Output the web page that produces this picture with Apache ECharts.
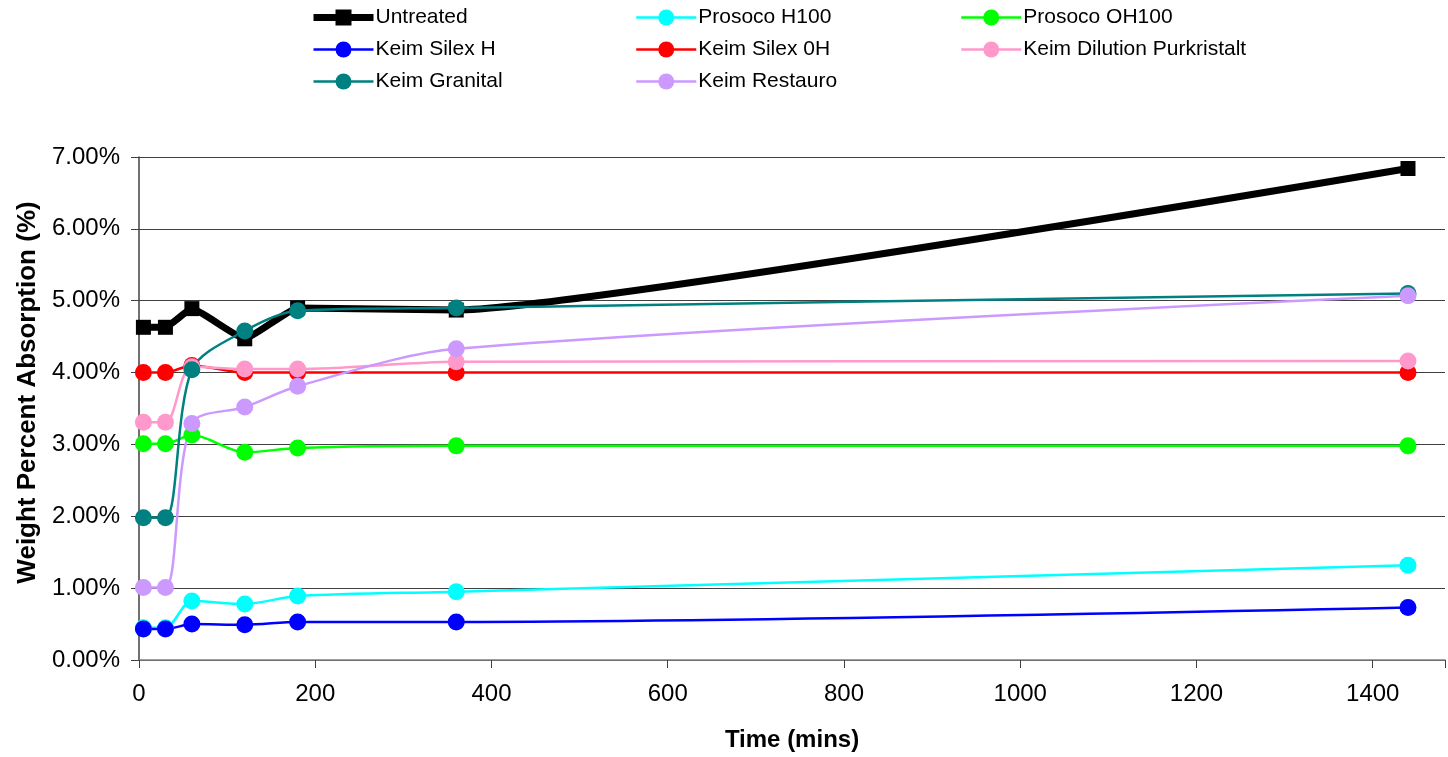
<!DOCTYPE html>
<html>
<head>
<meta charset="utf-8">
<script src="https://cdn.jsdelivr.net/npm/echarts@6/dist/echarts.min.js"></script>
<style>
html,body{margin:0;padding:0;background:#fff;}
#chart{width:1448px;height:757px;}
</style>
</head>
<body>
<div id="chart"></div>
<script>
// Data
var times = [5, 30, 60, 120, 180, 360, 1440];
var seriesNames = ['Untreated', 'Prosoco H100', 'Prosoco OH100', 'Keim Silex H', 'Keim Silex 0H', 'Keim Dilution Purkristalt', 'Keim Granital', 'Keim Restauro'];
var untreated   = [4.63, 4.63, 4.89, 4.47, 4.90, 4.87, 6.84];
var prosocoH100 = [0.45, 0.45, 0.82, 0.78, 0.89, 0.95, 1.32];
var prosocoOH100= [3.01, 3.01, 3.13, 2.89, 2.95, 2.98, 2.98];
var keimSilexH  = [0.43, 0.43, 0.50, 0.49, 0.53, 0.53, 0.73];
var keimSilex0H = [4.00, 4.00, 4.10, 4.00, 4.00, 4.00, 4.00];
var keimPurkristalt = [3.31, 3.31, 4.08, 4.05, 4.05, 4.15, 4.16];
var keimGranital = [1.98, 1.98, 4.04, 4.58, 4.86, 4.90, 5.10];
var keimRestauro = [1.01, 1.01, 3.29, 3.52, 3.81, 4.33, 5.07];
var xTicks = [0, 200, 400, 600, 800, 1000, 1200, 1400];
var yTicks = [0, 1, 2, 3, 4, 5, 6, 7];

var valuesList = [untreated, prosocoH100, prosocoOH100, keimSilexH, keimSilex0H, keimPurkristalt, keimGranital, keimRestauro];
var colors = ['#000000', '#00FFFF', '#00FF00', '#0000FF', '#FF0000', '#FF99CC', '#008080', '#CC99FF'];

function pairs(vals) {
  return times.map(function (t, i) { return [t, vals[i]]; });
}

var FONT = '"Liberation Sans", Arial, sans-serif';

var series = seriesNames.map(function (name, i) {
  var isU = i === 0;
  return {
    name: name,
    type: 'line',
    data: pairs(valuesList[i]),
    smooth: isU ? 0.12 : 0.3,
    symbol: isU ? 'rect' : 'circle',
    symbolSize: isU ? 15 : 17,
    showSymbol: true,
    itemStyle: { color: colors[i], borderWidth: 0 },
    lineStyle: { color: colors[i], width: isU ? 7 : 2.5 },
    emphasis: { disabled: true },
    animation: false
  };
});

function legendItem(name) {
  var i = seriesNames.indexOf(name);
  var isU = i === 0;
  return {
    name: name,
    itemStyle: { color: colors[i] },
    lineStyle: { color: colors[i], width: isU ? 7 : 2.5 }
  };
}

var legendBase = {
  orient: 'vertical',
  top: 2,
  itemWidth: 60,
  itemHeight: 20,
  itemGap: 11,
  textStyle: { fontFamily: FONT, fontSize: 21, color: '#000', lineHeight: 21, padding: [0, 0, 0, -3] },
  selectedMode: false
};

var option = {
  backgroundColor: '#fff',
  animation: false,
  color: colors,
  legend: [
    Object.assign({}, legendBase, { left: 305, data: ['Untreated', 'Keim Silex H', 'Keim Granital'].map(legendItem) }),
    Object.assign({}, legendBase, { left: 630, data: ['Prosoco H100', 'Keim Silex 0H', 'Keim Restauro'].map(legendItem) }),
    Object.assign({}, legendBase, { left: 955, data: ['Prosoco OH100', 'Keim Dilution Purkristalt'].map(legendItem) })
  ],
  grid: { left: 139, top: 157, bottom: 97, right: 0, containLabel: false },
  xAxis: {
    type: 'value',
    min: 0,
    max: 1482,
    interval: 200,
    name: 'Time (mins)',
    nameLocation: 'middle',
    nameGap: 68,
    nameTextStyle: { fontFamily: FONT, fontSize: 24, fontWeight: 'bold', color: '#000' },
    axisLine: { show: true, lineStyle: { color: '#808080', width: 1.5 } },
    axisTick: { show: true, inside: false, length: 8, lineStyle: { color: '#404040' } },
    axisLabel: {
      fontFamily: FONT, fontSize: 24, color: '#000', margin: 22,
      formatter: function (v) { return xTicks.indexOf(v) >= 0 ? String(v) : ''; }
    },
    splitLine: { show: false }
  },
  yAxis: {
    type: 'value',
    min: 0,
    max: 7,
    interval: 1,
    name: 'Weight Percent Absorption (%)',
    nameLocation: 'middle',
    nameGap: 98,
    nameTextStyle: { fontFamily: FONT, fontSize: 26, fontWeight: 'bold', color: '#000', padding: [0, 0, 0, 32] },
    axisLine: { show: true, lineStyle: { color: '#404040', width: 1.5 } },
    axisTick: { show: true, inside: false, length: 8, lineStyle: { color: '#404040' } },
    axisLabel: {
      fontFamily: FONT, fontSize: 24, color: '#000', margin: 19,
      formatter: function (v) { return yTicks.indexOf(v) >= 0 ? v.toFixed(2) + '%' : ''; }
    },
    splitLine: { show: true, lineStyle: { color: '#404040', width: 1.2 } }
  },
  series: series
};

var chart = echarts.init(document.getElementById('chart'), null, { renderer: 'canvas' });
chart.setOption(option);
</script>
</body>
</html>
